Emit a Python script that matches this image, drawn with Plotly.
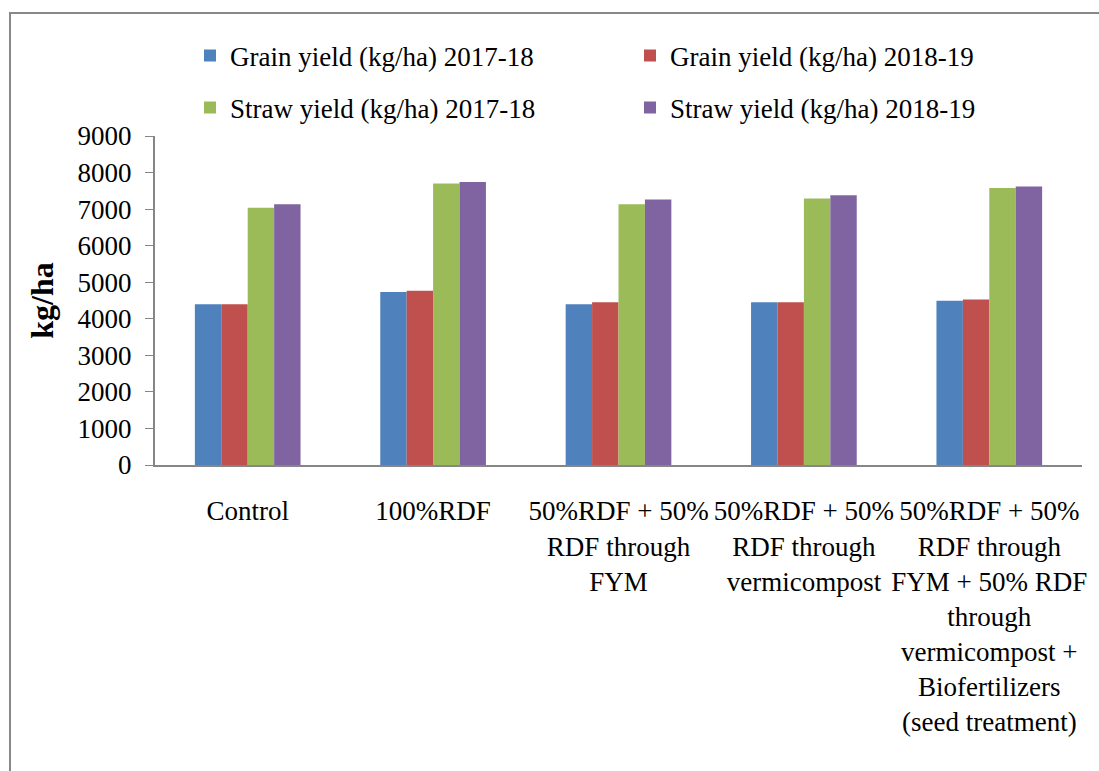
import plotly.graph_objects as go

categories = [
    "Control",
    "100%RDF",
    "50%RDF + 50%<br>RDF through<br>FYM",
    "50%RDF + 50%<br>RDF through<br>vermicompost",
    "50%RDF + 50%<br>RDF through<br>FYM + 50% RDF<br>through<br>vermicompost +<br>Biofertilizers<br>(seed treatment)",
]
grain_2017 = [4400, 4730, 4400, 4450, 4490]
grain_2018 = [4400, 4770, 4450, 4450, 4530]
straw_2017 = [7040, 7700, 7130, 7290, 7580]
straw_2018 = [7130, 7740, 7260, 7380, 7620]
y_ticks = [0, 1000, 2000, 3000, 4000, 5000, 6000, 7000, 8000, 9000]

series = [
    ("Grain yield (kg/ha) 2017-18", grain_2017, "#4F81BD", "legend"),
    ("Grain yield (kg/ha) 2018-19", grain_2018, "#C0504D", "legend"),
    ("Straw yield (kg/ha) 2017-18", straw_2017, "#9BBB59", "legend2"),
    ("Straw yield (kg/ha) 2018-19", straw_2018, "#8064A2", "legend2"),
]

FONT = "Liberation Serif"
W, H = 1099, 771
ML, MR, MT, MB = 155, 17, 136, 306

fig = go.Figure()
for name, vals, col, lg in series:
    fig.add_trace(go.Bar(x=categories, y=vals, name=name, marker=dict(color=col, line=dict(width=0)),
                         legend=lg))

pw = W - ML - MR
ph = H - MT - MB

def px_x(p):
    return (p - ML) / pw

def px_y(p):
    return (H - MB - p) / ph

legend_common = dict(orientation="h", xref="container", yref="container", xanchor="left", yanchor="middle",
                     font=dict(family=FONT, size=27, color="black"), entrywidth=395, entrywidthmode="pixels",
                     bgcolor="rgba(0,0,0,0)", traceorder="normal")

fig.update_layout(
    width=W, height=H,
    margin=dict(l=ML, r=MR, t=MT, b=MB, autoexpand=False),
    paper_bgcolor="white", plot_bgcolor="white",
    font=dict(family=FONT, color="black"),
    barmode="group", bargap=0.43, bargroupgap=0,
    legend=dict(**legend_common, x=190 / W, y=1 - 56 / H),
    legend2=dict(**legend_common, x=190 / W, y=1 - 108 / H),
    xaxis=dict(showline=True, linecolor="#868686", linewidth=2, ticks="", tickfont=dict(size=27, family=FONT, color="black"),
               showgrid=False, tickangle=0, ticklabelstandoff=21),
    yaxis=dict(range=[0, 9000], tickvals=y_ticks, showline=True, linecolor="#868686", linewidth=2,
               ticks="outside", ticklen=8, tickcolor="#868686", tickwidth=1, showgrid=False,
               tickfont=dict(size=27, family=FONT, color="black"), ticklabelstandoff=8,
               title=dict(text="<b>kg/ha</b>", font=dict(size=32, family=FONT, color="black"), standoff=14)),
    shapes=[dict(type="rect", xref="paper", yref="paper", x0=px_x(10), x1=px_x(1110), y0=px_y(13), y1=px_y(790),
                 line=dict(color="#888888", width=2), fillcolor="rgba(0,0,0,0)", layer="below")],
)

fig.write_html("out.html")
